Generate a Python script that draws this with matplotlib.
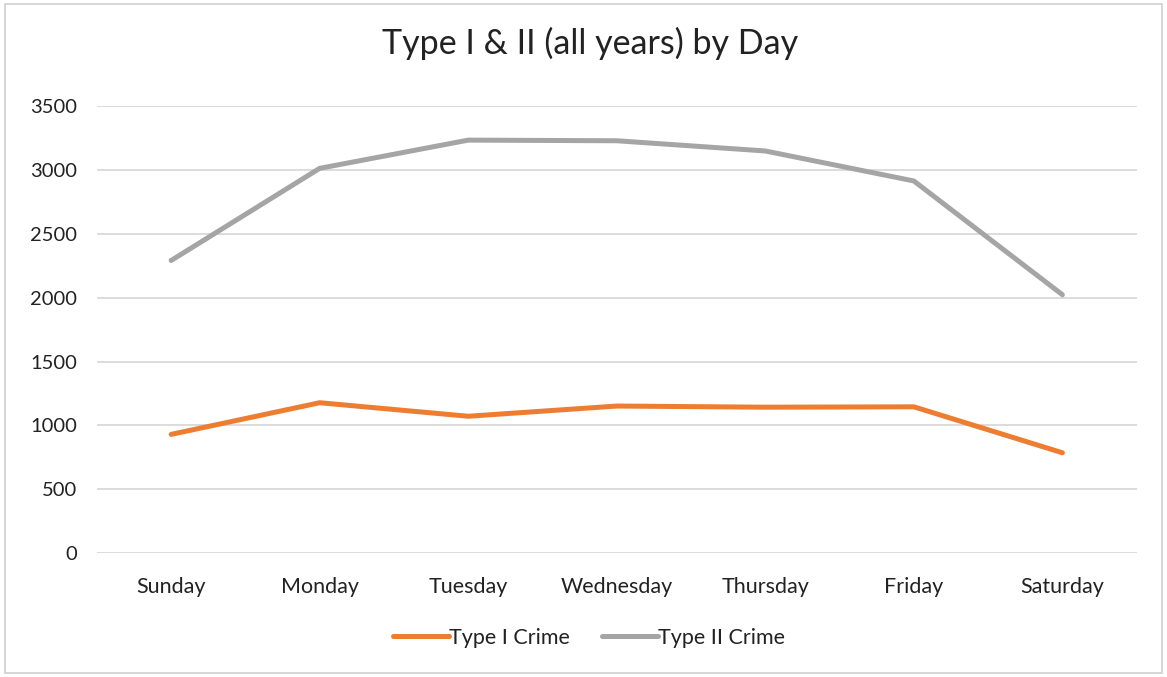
import matplotlib
matplotlib.use("Agg")
import matplotlib.pyplot as plt
from matplotlib.patches import Rectangle

days = ["Sunday", "Monday", "Tuesday", "Wednesday", "Thursday", "Friday", "Saturday"]
type1 = [930, 1178, 1072, 1152, 1143, 1146, 786]
type2 = [2292, 3014, 3235, 3230, 3150, 2915, 2024]
yticks = [0, 500, 1000, 1500, 2000, 2500, 3000, 3500]

plt.rcParams["font.family"] = ["Lato", "DejaVu Sans"]

fig = plt.figure(figsize=(11.67, 6.77), dpi=100)
fig.patch.set_facecolor("white")
fig.patches.append(Rectangle((0.004, 0.006), 0.992, 0.988, transform=fig.transFigure,
                             fill=False, edgecolor="#d0d0d0", linewidth=1.2))

ax = fig.add_axes([0.083, 0.183, 0.891, 0.660])
x = list(range(len(days)))
ax.plot(x, type1, color="#ED7D31", linewidth=3.6, solid_capstyle="round",
        solid_joinstyle="round", label="Type I Crime")
ax.plot(x, type2, color="#A5A5A5", linewidth=3.6, solid_capstyle="round",
        solid_joinstyle="round", label="Type II Crime")

ax.set_xlim(-0.5, len(days) - 0.5)
ax.set_ylim(0, 3500)
ax.set_yticks(yticks)
ax.set_yticklabels([str(v) for v in yticks])
ax.set_xticks(x)
ax.set_xticklabels(days)
ax.tick_params(axis="both", length=0, colors="#222222")
ax.tick_params(axis="y", labelsize=14.5, pad=14)
ax.tick_params(axis="x", labelsize=15.5, pad=17)
ax.grid(axis="y", color="#d9d9d9", linewidth=1.3)
ax.set_axisbelow(True)
for s in ax.spines.values():
    s.set_visible(False)

fig.suptitle("Type I & II (all years) by Day", x=0.506, y=0.96, fontsize=24.5,
             color="#222222")

fig.legend(loc="center", bbox_to_anchor=(0.505, 0.058), ncol=2, frameon=False,
           fontsize=15.5, handlelength=2.6, handletextpad=0.0, columnspacing=1.5,
           labelcolor="#222222")

fig.savefig("out.png", dpi=100)
